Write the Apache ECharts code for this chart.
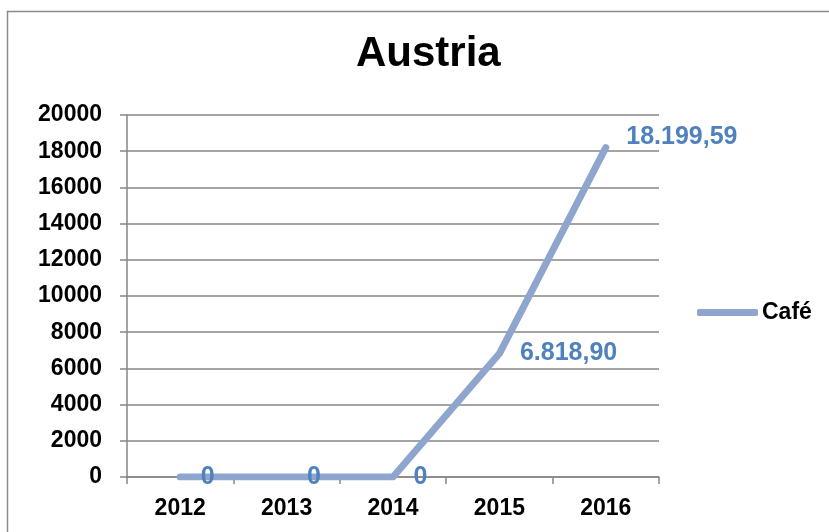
<!DOCTYPE html>
<html>
<head>
<meta charset="utf-8">
<script src="https://cdn.jsdelivr.net/npm/echarts@6/dist/echarts.min.js"></script>
<style>
  html, body { margin: 0; padding: 0; background: #fff; }
  #main { width: 829px; height: 532px; }
</style>
</head>
<body>
<div id="main"></div>
<script>
// data
var years = ['2012', '2013', '2014', '2015', '2016'];
var cafe = [0, 0, 0, 6818.90, 18199.59];
var yTicks = [0, 2000, 4000, 6000, 8000, 10000, 12000, 14000, 16000, 18000, 20000];

// german number style: 6.818,90
function deFormat(v) {
  if (v === 0) return '0';
  var parts = v.toFixed(2).split('.');
  var intPart = parts[0].replace(/\B(?=(\d{3})+(?!\d))/g, '.');
  return intPart + ',' + parts[1];
}

var lineColor = '#8EA6CE';
var labelColor = '#4F81BD';
var font = 'Liberation Sans, Arial, sans-serif';

var myChart = echarts.init(document.getElementById('main'));
myChart.setOption({
  animation: false,
  title: {
    text: 'Austria',
    left: 356,
    top: 33,
    padding: 0,
    textStyle: { fontFamily: font, fontSize: 42, fontWeight: 'bold', color: '#000' }
  },
  graphic: [{
    type: 'rect',
    shape: { x: 7.5, y: 11.5, width: 840, height: 540 },
    style: { fill: 'none', stroke: '#8a8a8a', lineWidth: 1.5 },
    silent: true
  }],
  legend: {
    data: ['Café'],
    left: 697,
    top: 301,
    padding: 0,
    icon: 'roundRect',
    itemWidth: 61,
    itemHeight: 7,
    itemGap: 4,
    textStyle: { fontFamily: font, fontSize: 23, fontWeight: 'bold', color: '#000', padding: [0, 0, 0, -1] }
  },
  grid: { left: 127, right: 170, top: 115, bottom: 55 },
  xAxis: {
    type: 'category',
    data: years,
    boundaryGap: true,
    axisLine: { lineStyle: { color: '#868686', width: 1.5 } },
    axisTick: { show: true, length: 7, alignWithLabel: false, lineStyle: { color: '#868686', width: 1.5 } },
    axisLabel: { fontFamily: font, fontSize: 23, fontWeight: 'bold', color: '#000', margin: 20 }
  },
  yAxis: {
    type: 'value',
    min: yTicks[0],
    max: yTicks[yTicks.length - 1],
    interval: yTicks[1] - yTicks[0],
    axisLine: { show: true, lineStyle: { color: '#868686', width: 1.5 } },
    axisTick: { show: true, length: 7, lineStyle: { color: '#868686', width: 1.5 } },
    splitLine: { lineStyle: { color: '#868686', width: 1.5 } },
    axisLabel: {
      fontFamily: font, fontSize: 23, fontWeight: 'bold', color: '#000', margin: 25,
      formatter: function (v) { return String(v); }
    }
  },
  series: [{
    name: 'Café',
    type: 'line',
    data: cafe,
    symbol: 'circle',
    symbolSize: 1,
    showSymbol: true,
    itemStyle: { color: lineColor },
    color: lineColor,
    lineStyle: { color: lineColor, width: 7, cap: 'round', join: 'round' },
    label: {
      show: true,
      position: 'right',
      distance: 20,
      formatter: function (p) { return deFormat(p.value); },
      fontFamily: font,
      fontSize: 25,
      fontWeight: 'bold',
      color: labelColor
    },
    labelLayout: function (params) {
      if (params.dataIndex === 4) return { dy: -10 };
      return {};
    }
  }]
});
</script>
</body>
</html>
